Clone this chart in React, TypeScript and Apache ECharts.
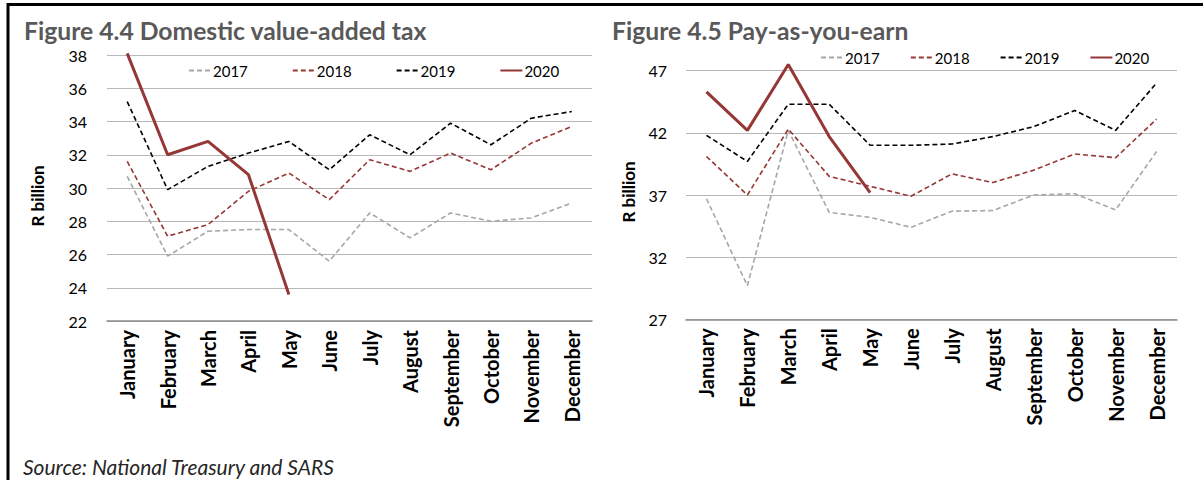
import React, { useEffect, useRef } from "react";
import * as echarts from "echarts";

const months = ["January", "February", "March", "April", "May", "June", "July", "August", "September", "October", "November", "December"];
const years = ["2017", "2018", "2019", "2020"];

const vat2017 = [30.7, 25.9, 27.4, 27.5, 27.5, 25.6, 28.5, 27.0, 28.5, 28.0, 28.2, 29.1];
const vat2018 = [31.6, 27.1, 27.8, 29.8, 30.9, 29.3, 31.7, 31.0, 32.1, 31.1, 32.7, 33.7];
const vat2019 = [35.2, 29.9, 31.3, 32.1, 32.8, 31.1, 33.2, 32.0, 33.9, 32.6, 34.2, 34.6];
const vat2020 = [38.1, 32.0, 32.8, 30.8, 23.6];

const paye2017 = [36.7, 29.7, 42.2, 35.6, 35.2, 34.4, 35.7, 35.75, 37.0, 37.1, 35.8, 40.5];
const paye2018 = [40.1, 37.0, 42.3, 38.5, 37.7, 36.9, 38.7, 38.0, 39.0, 40.3, 40.0, 43.1];
const paye2019 = [41.8, 39.7, 44.3, 44.3, 41.0, 41.0, 41.1, 41.7, 42.5, 43.8, 42.2, 46.0];
const paye2020 = [45.3, 42.2, 47.5, 41.7, 37.2];

const vatTitle = "Figure 4.4 Domestic value-added tax";
const payeTitle = "Figure 4.5 Pay-as-you-earn";
const yName = "R billion";
const sourceText = "Source: National Treasury and SARS";

const FONT = "Lato, 'Open Sans', sans-serif";
const RED = "#953735";

const styles: Record<string, any> = {
  "2017": { color: "#A6A6A6", width: 1.6, type: [5, 3] },
  "2018": { color: RED, width: 1.6, type: [5, 3] },
  "2019": { color: "#000000", width: 1.6, type: [5, 3] },
  "2020": { color: RED, width: 3, type: "solid" },
};

function makeSeries(name: string, data: number[], idx: number) {
  return {
    type: "line",
    name,
    data,
    xAxisIndex: idx,
    yAxisIndex: idx,
    symbol: "none",
    clip: false,
    lineStyle: styles[name],
    itemStyle: { color: styles[name].color },
    emphasis: { disabled: true },
  };
}

export default function App() {
  const ref = useRef<HTMLDivElement>(null);
  useEffect(() => {
    if (!ref.current) return;
    const chart = echarts.init(ref.current, undefined, { renderer: "svg" });
    const xAxisBase = {
      type: "category",
      data: months,
      boundaryGap: true,
      axisTick: { show: false },
      axisLine: { show: true, lineStyle: { color: "#8C8C8C", width: 1.5 } },
      axisLabel: { rotate: 90, fontFamily: FONT, fontWeight: "bold", fontSize: 20, color: "#000", margin: 9, interval: 0 },
      splitLine: { show: false },
    };
    const yAxisBase = {
      type: "value",
      axisLine: { show: false },
      axisTick: { show: false },
      axisLabel: { fontFamily: FONT, fontSize: 16, color: "#000" },
      splitLine: { show: true, lineStyle: { color: "#B7B7B7", width: 1 } },
    };
    const legendBase = {
      data: years,
      itemWidth: 22,
      itemHeight: 14,
      itemStyle: { opacity: 0 },
      textStyle: { fontFamily: FONT, fontSize: 15, color: "#000", padding: [0, 0, 0, -3] },
      selectedMode: false,
    };
    chart.setOption({
      animation: false,
      grid: [
        { left: 107, right: 1203 - 592, top: 55, bottom: 480 - 321 },
        { left: 686, right: 1203 - 1177, top: 70.7, bottom: 480 - 319.3 },
      ],
      xAxis: [
        { ...xAxisBase, gridIndex: 0 },
        { ...xAxisBase, gridIndex: 1 },
      ],
      yAxis: [
        { ...yAxisBase, gridIndex: 0, min: 22, max: 38, interval: 2, axisLabel: { ...yAxisBase.axisLabel, margin: 20 } },
        { ...yAxisBase, gridIndex: 1, min: 27, max: 47, interval: 5, axisLabel: { ...yAxisBase.axisLabel, margin: 19 } },
      ],
      legend: [
        { ...legendBase, left: 183, top: 58, itemGap: 44 },
        { ...legendBase, left: 815, top: 45, itemGap: 30 },
      ],
      series: [
        makeSeries("2017", vat2017, 0),
        makeSeries("2018", vat2018, 0),
        makeSeries("2019", vat2019, 0),
        makeSeries("2020", vat2020, 0),
        makeSeries("2017", paye2017, 1),
        makeSeries("2018", paye2018, 1),
        makeSeries("2019", paye2019, 1),
        makeSeries("2020", paye2020, 1),
      ],
      graphic: [
        { type: "line", shape: { x1: 8, y1: 4.5, x2: 1203, y2: 4.5 }, style: { stroke: "#000", lineWidth: 3 } },
        { type: "line", shape: { x1: 8, y1: 3, x2: 8, y2: 480 }, style: { stroke: "#000", lineWidth: 3 } },
        { type: "text", x: 24, y: 30, style: { text: vatTitle, fontFamily: FONT, fontWeight: "bold", fontSize: 24.7, fill: "#595959", align: "left", verticalAlign: "middle" } },
        { type: "text", x: 612, y: 30, style: { text: payeTitle, fontFamily: FONT, fontWeight: "bold", fontSize: 24.7, fill: "#595959", align: "left", verticalAlign: "middle" } },
        { type: "text", x: 37.5, y: 196, rotation: Math.PI / 2, style: { text: yName, fontFamily: FONT, fontWeight: "bold", fontSize: 17, fill: "#000", align: "center", verticalAlign: "middle" } },
        { type: "text", x: 628.5, y: 192, rotation: Math.PI / 2, style: { text: yName, fontFamily: FONT, fontWeight: "bold", fontSize: 17, fill: "#000", align: "center", verticalAlign: "middle" } },
        { type: "text", x: 23, y: 466, style: { text: sourceText, fontFamily: FONT, fontStyle: "italic", fontSize: 21, fill: "#262626", align: "left", verticalAlign: "middle" } },
      ],
    });
    return () => chart.dispose();
  }, []);
  return <div ref={ref} style={{ position: "fixed", left: 0, top: 0, width: 1203, height: 480, background: "#fff" }} />;
}
